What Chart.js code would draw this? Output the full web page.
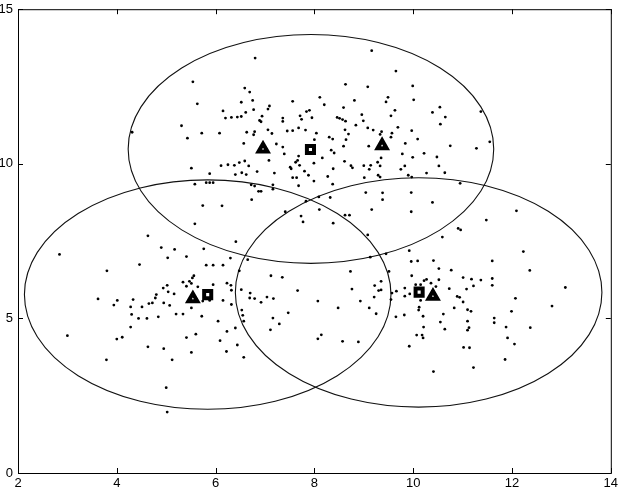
<!DOCTYPE html>
<html>
<head>
<meta charset="utf-8">
<script src="https://cdn.jsdelivr.net/npm/chart.js@4.4.0/dist/chart.umd.min.js"></script>
<style>
  html, body { margin: 0; padding: 0; background: #fff; }
  canvas { display: block; }
</style>
</head>
<body>
<canvas id="chart" width="620" height="490"></canvas>
<script>
// axis ticks
const xTicks = [2, 4, 6, 8, 10, 12, 14];
const yTicks = [0, 5, 10, 15];

// scattered samples
const dots = [
  [5.54,12.65],[5.63,11.94],[5.31,11.23],[5.72,10.99],[5.43,10.83],[4.31,11.02],
  [6.80,13.42],[9.16,13.66],[9.65,13.00],[8.63,12.57],[9.08,12.49],[9.99,12.52],[6.59,12.45],[6.69,12.32],
  [6.52,11.99],[6.75,12.05],[7.56,12.02],[8.11,12.15],[8.20,11.91],[8.81,12.05],[9.49,12.15],[9.45,12.00],[10.01,12.07],
  [6.15,11.71],[6.61,11.66],[6.77,11.75],[7.09,11.87],[7.06,11.77],[7.84,11.69],[7.90,11.73],[8.59,11.82],[9.63,11.73],
  [6.20,11.48],[6.32,11.50],[6.44,11.51],[6.52,11.53],[6.94,11.54],[6.89,11.40],[6.92,11.36],[7.36,11.48],[7.36,11.37],
  [7.71,11.55],[7.74,11.44],[7.95,11.49],[8.46,11.50],[8.51,11.47],[8.57,11.43],[8.63,11.38],[8.96,11.59],[8.99,11.39],[9.55,11.55],
  [6.08,10.99],[6.63,11.02],[6.79,11.04],[6.77,10.94],[7.06,11.10],[7.14,10.98],[7.45,11.06],[7.56,11.07],[7.68,11.16],
  [7.82,11.09],[8.04,10.99],[8.00,10.78],[8.30,10.86],[8.37,10.80],[8.62,11.10],[8.69,10.96],[8.64,10.78],[8.84,11.25],
  [9.08,11.16],[9.19,11.09],[9.36,11.04],[9.33,10.95],[9.57,10.99],[9.55,10.86],[9.69,11.18],[9.97,11.07],
  [6.57,10.66],[7.23,10.64],[7.36,10.54],[8.59,10.57],[9.10,10.57],[9.84,10.66],[8.34,10.44],[8.40,10.35],[7.39,10.32],
  [7.08,10.11],[7.68,10.25],[7.66,10.11],[8.16,10.19],[7.99,10.02],[8.61,10.08],[9.78,10.32],[9.99,10.21],[9.35,10.19],[9.28,10.05],
  [6.11,9.94],[6.25,9.97],[6.38,9.95],[6.48,10.04],[6.59,10.09],[6.67,9.93],[7.62,10.05],[7.70,9.95],[8.74,9.94],[9.00,9.94],[9.14,9.95],
  [10.39,11.66],[10.54,11.83],[10.65,11.51],[10.55,11.28],[11.37,11.69],[10.09,10.80],[10.75,10.58],[10.22,10.34],
  [11.28,10.50],[11.55,10.71],[10.48,10.22],[10.52,9.93],
  [6.84,9.75],[6.40,9.65],[6.53,9.71],[6.62,9.65],[7.19,9.70],[7.51,9.89],[7.53,9.84],[7.80,9.76],[7.56,9.55],[7.64,9.55],
  [7.88,9.63],[7.68,9.29],[7.99,9.44],[8.27,9.59],[8.38,9.84],[8.37,9.34],[8.77,9.87],[9.01,9.55],[9.11,9.82],[9.33,9.93],
  [9.29,9.63],[9.33,9.57],[9.75,9.82],[9.83,9.93],[9.90,9.63],[9.97,9.57],[6.72,9.32],[6.79,9.28],[7.16,9.32],[7.16,9.18],
  [6.87,9.11],[6.92,9.11],[6.73,8.84],[6.13,8.64],[9.04,9.07],[9.38,9.06],[9.38,8.84],[9.96,9.07],[8.32,8.91],[8.09,8.93],
  [7.83,8.79],[8.10,8.52],[7.41,8.45],[7.73,8.31],[7.77,8.12],[8.62,8.34],[8.71,8.34],[9.16,8.52],[8.38,8.08],[9.96,8.45],
  [9.08,7.70],[6.41,7.48],[9.13,6.98],[9.45,7.09],[9.92,7.19],[6.30,6.95],[6.65,6.90],[6.15,6.72],[9.96,6.84],[6.48,6.54],
  [7.12,6.38],[7.35,6.33],[8.73,6.52],[9.51,6.52],[9.97,6.38],[6.23,6.14],[6.31,6.07],[6.32,5.91],[6.52,5.93],[6.70,5.82],
  [7.66,5.90],[8.76,5.95],[9.22,6.06],[9.35,6.20],[9.30,5.90],[9.35,5.92],[9.57,5.82],[9.66,5.88],[9.83,5.98],[9.83,5.72],
  [9.93,5.79],[6.69,5.66],[6.79,5.64],[7.04,5.69],[7.17,5.64],[6.92,5.52],[6.15,5.58],[8.07,5.56],[8.93,5.56],[9.21,5.69],
  [9.55,5.61],[6.32,5.45],[6.53,5.27],[6.55,5.10],[6.57,4.91],[7.47,5.18],[8.48,5.34],[9.11,5.34],[6.05,4.91],[7.16,5.01],
  [7.29,4.82],[9.25,5.15],[9.65,5.05],[9.82,5.11],
  [5.51,9.86],[5.88,9.68],[5.58,9.34],[5.81,9.39],[5.88,9.39],[5.95,9.39],[5.74,8.65],[5.58,8.06],[4.63,7.67],[4.90,7.29],
  [5.17,7.23],[5.76,7.25],[2.84,7.07],[5.03,6.96],[5.41,7.00],[4.46,6.74],[5.81,6.72],[5.95,6.72],[3.80,6.54],[5.56,6.38],
  [5.53,6.31],[5.34,6.17],[5.47,6.20],[5.02,6.07],[4.94,5.98],[5.41,6.04],[5.51,6.13],[5.64,6.02],[5.95,6.09],[5.04,5.86],
  [5.16,5.79],[4.80,5.77],[4.78,5.66],[3.62,5.63],[4.01,5.58],[4.33,5.61],[3.94,5.43],[4.28,5.37],[4.51,5.37],[4.65,5.48],
  [4.72,5.50],[4.95,5.50],[5.07,5.42],[5.51,5.34],[5.74,5.56],[5.88,5.58],[4.30,5.13],[4.44,5.00],[4.61,5.00],[4.84,5.05],
  [5.20,5.14],[5.34,5.14],[5.72,5.07],
  [10.64,9.71],[10.27,9.70],[10.95,9.37],[10.39,8.75],[12.09,8.48],[11.48,8.18],[10.91,7.91],[10.96,7.86],[10.59,7.63],
  [12.23,7.16],[10.09,6.86],[10.41,6.87],[11.60,6.86],[10.52,6.61],[10.77,6.56],[12.36,6.55],[10.22,6.22],[10.27,6.26],
  [10.36,6.14],[10.05,6.09],[10.15,6.09],[10.52,6.25],[11.01,6.32],[11.18,6.27],[11.37,6.24],[11.60,6.29],[11.60,6.07],
  [11.22,6.05],[10.46,6.03],[10.73,5.96],[11.08,5.95],[13.08,6.00],[10.89,5.71],[10.94,5.68],[11.01,5.53],[10.15,5.58],
  [12.07,5.65],[10.12,5.36],[10.11,5.27],[10.83,5.34],[11.10,5.28],[11.17,5.23],[12.81,5.40],[11.99,5.23],[10.61,5.14],
  [10.20,5.07],[11.10,4.91],[11.64,5.01],[11.64,4.86],[10.55,4.88],
  [3.00,4.44],[3.79,3.66],[4.00,4.33],[4.11,4.39],[4.28,4.72],[4.63,4.08],[4.95,4.02],[5.12,3.66],[5.00,2.76],[5.02,1.97],
  [5.41,4.38],[5.60,4.49],[5.51,3.90],
  [6.23,4.58],[6.40,4.69],[6.09,4.28],[6.44,4.14],[6.22,3.93],[6.57,3.74],[7.11,4.63],[8.07,4.34],[8.14,4.47],[8.57,4.26],
  [8.89,4.24],[9.92,4.10],
  [10.07,4.46],[10.18,4.46],[10.20,4.37],[10.21,4.72],[10.64,4.65],[11.13,4.70],[11.10,4.62],[11.88,4.72],[11.91,4.37],
  [12.05,4.17],[12.37,4.70],[11.02,4.06],[11.14,4.05],[11.86,3.67],[11.22,3.41],[10.41,3.28]
];

// triangle and square markers
const triangles = [[6.96, 10.48], [9.37, 10.59], [5.54, 5.64], [10.40, 5.72]];
const squares = [[7.92, 10.46], [5.84, 5.77], [10.12, 5.85]];

// the three circles (in data units)
const circleX = [7.93, 5.84, 10.11];
const circleY = [10.48, 5.77, 5.84];
const circleR = [3.70, 3.71, 3.71];

const toXY = (arr) => arr.map(p => ({ x: p[0], y: p[1] }));

const font = { family: '"Liberation Sans", Arial, sans-serif', size: 13 };

// circles, frame and inward ticks
const drawExtras = {
  id: 'drawExtras',
  beforeDatasetsDraw(chart) {
    const ctx = chart.ctx;
    const sx = chart.scales.x, sy = chart.scales.y;
    ctx.save();
    ctx.strokeStyle = '#111';
    ctx.lineWidth = 1.1;
    for (let i = 0; i < circleX.length; i++) {
      const cx = sx.getPixelForValue(circleX[i]);
      const cy = sy.getPixelForValue(circleY[i]);
      const rx = Math.abs(sx.getPixelForValue(circleX[i] + circleR[i]) - cx);
      const ry = Math.abs(sy.getPixelForValue(circleY[i] + circleR[i]) - cy);
      ctx.beginPath();
      ctx.ellipse(cx, cy, rx, ry, 0, 0, Math.PI * 2);
      ctx.stroke();
    }
    ctx.restore();
  },
  afterDraw(chart) {
    const ctx = chart.ctx;
    const a = chart.chartArea;
    const sx = chart.scales.x, sy = chart.scales.y;
    const tl = 5;
    ctx.save();
    ctx.strokeStyle = '#000';
    ctx.lineWidth = 1;
    ctx.strokeRect(a.left + 0.5, a.top + 0.5, a.right - a.left, a.bottom - a.top);
    ctx.beginPath();
    xTicks.forEach(v => {
      const px = Math.round(sx.getPixelForValue(v)) + 0.5;
      ctx.moveTo(px, a.bottom); ctx.lineTo(px, a.bottom - tl);
      ctx.moveTo(px, a.top); ctx.lineTo(px, a.top + tl);
    });
    yTicks.forEach(v => {
      const py = Math.round(sy.getPixelForValue(v)) + 0.5;
      ctx.moveTo(a.left, py); ctx.lineTo(a.left + tl, py);
      ctx.moveTo(a.right, py); ctx.lineTo(a.right - tl, py);
    });
    ctx.stroke();
    ctx.restore();
  }
};

new Chart(document.getElementById('chart'), {
  type: 'scatter',
  data: {
    datasets: [
      {
        data: toXY(squares),
        pointStyle: 'rect',
        pointRadius: 5,
        backgroundColor: '#fff',
        borderColor: '#000',
        borderWidth: 4
      },
      {
        data: toXY(triangles),
        pointStyle: 'triangle',
        pointRadius: 5.2,
        backgroundColor: '#fff',
        borderColor: '#000',
        borderWidth: 4
      },
      {
        data: toXY(dots),
        pointRadius: 1.4,
        backgroundColor: '#000',
        borderWidth: 0
      }
    ]
  },
  options: {
    responsive: false,
    animation: false,
    events: [],
    devicePixelRatio: 1,
    layout: { padding: { top: 5, right: 8, left: 0, bottom: 0 } },
    plugins: {
      legend: { display: false },
      tooltip: { enabled: false }
    },
    scales: {
      x: {
        type: 'linear',
        min: 2,
        max: 14,
        afterBuildTicks: (s) => { s.ticks = xTicks.map(v => ({ value: v })); },
        ticks: { color: '#000', font: font, padding: 3, maxRotation: 0 },
        grid: { display: false, drawTicks: false },
        border: { display: false },
        afterFit: (s) => { s.height = 17; s.paddingLeft = 0; s.paddingRight = 0; }
      },
      y: {
        type: 'linear',
        min: 0,
        max: 15,
        afterBuildTicks: (s) => { s.ticks = yTicks.map(v => ({ value: v })); },
        ticks: { color: '#000', font: font, padding: 5 },
        grid: { display: false, drawTicks: false },
        border: { display: false },
        afterFit: (s) => { s.width = 18; s.paddingTop = 0; s.paddingBottom = 0; }
      }
    }
  },
  plugins: [drawExtras]
});
</script>
</body>
</html>
